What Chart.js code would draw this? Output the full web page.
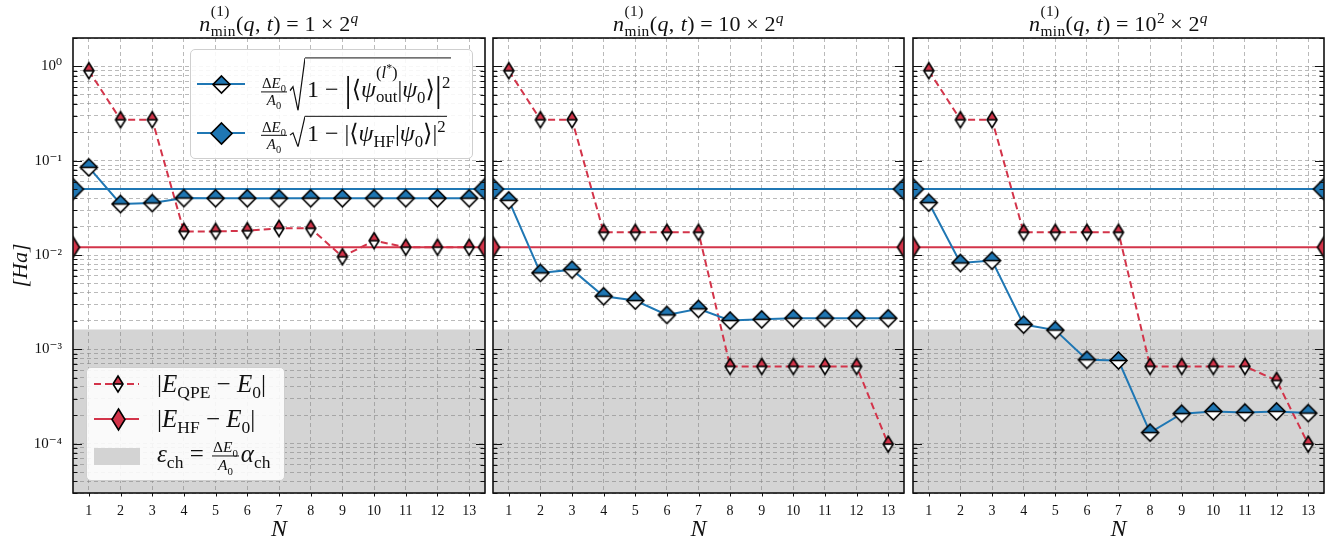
<!DOCTYPE html>
<html>
<head>
<meta charset="utf-8">
<script src="https://cdn.jsdelivr.net/npm/chart.js@4.4.1/dist/chart.umd.min.js"></script>
<style>
  body { margin: 0; background: #fff; width: 1340px; height: 542px; overflow: hidden; position: relative; }
  .panel { position: absolute; top: 0; height: 542px; }
  .m { font-family: "Liberation Serif", "DejaVu Serif", serif; color: #111; white-space: nowrap; }
  .m sub, .m sup { font-size: 0.7em; line-height: 0; }
  .op { margin: 0 0.24em; }
  .title { position: absolute; top: 11px; text-align: center; font-size: 22px; line-height: 26px; letter-spacing: 0.4px; }
  .ss { position: relative; display: inline-block; font-size: 0.7em; vertical-align: -0.32em; line-height: 1; }
  .ss .sp { position: absolute; left: 0; top: -1.3em; }
  .leg .ss .sp { top: -1.45em; }
  .frac { display: inline-block; vertical-align: middle; text-align: center; font-size: 0.62em; line-height: 1.1; margin: 0 2px; }
  .frac > span { display: block; padding: 0 1px; }
  .frac .num { border-bottom: 1px solid #111; }
  .sqrt { display: inline-flex; position: relative; padding-left: 16px; vertical-align: baseline; }
  .sqrt svg { position: absolute; left: 0; top: 0; width: 16px; height: 100%; }
  .rc { display: inline-block; border-top: 1.2px solid #111; padding: 2px 1px 0 2px; }
  .rc.tall { padding-top: 17px; padding-bottom: 4px; }
  .big { font-size: 1.5em; line-height: 0; vertical-align: -0.1em; }
  .legend { position: absolute; background: rgba(255,255,255,0.88); border: 1px solid #cfcfcf; border-radius: 5px; }
  .legend .key { position: absolute; }
  .legend .txt { position: absolute; transform: translateY(-50%); }
</style>
</head>
<body>
<div id="p0" class="panel" style="left:0px;width:490px"><canvas id="c0" width="490" height="542"></canvas></div>
<div id="p1" class="panel" style="left:488px;width:422px"><canvas id="c1" width="422" height="542"></canvas></div>
<div id="p2" class="panel" style="left:908px;width:422px"><canvas id="c2" width="422" height="542"></canvas></div>

<div class="title m" style="left:73px;width:412px"><i>n</i><span class="ss"><span class="sp">(1)</span>min</span>(<i>q</i>, <i>t</i>)<span class="op">=</span>1<span class="op">×</span>2<sup><i>q</i></sup></div>
<div class="title m" style="left:493px;width:411px"><i>n</i><span class="ss"><span class="sp">(1)</span>min</span>(<i>q</i>, <i>t</i>)<span class="op">=</span>10<span class="op">×</span>2<sup><i>q</i></sup></div>
<div class="title m" style="left:913px;width:411px"><i>n</i><span class="ss"><span class="sp">(1)</span>min</span>(<i>q</i>, <i>t</i>)<span class="op">=</span>10<sup>2</sup><span class="op">×</span>2<sup><i>q</i></sup></div>

<div id="leg1" class="legend m leg" style="left:190px;top:49px;width:281px;height:108px">
  <div class="txt" style="left:68px;top:34px;font-size:24px"><span class="frac"><span class="num">Δ<i>E</i><sub>0</sub></span><span><i>A</i><sub>0</sub></span></span><span class="sqrt"><svg viewBox="0 0 16 40" preserveAspectRatio="none"><polyline points="1,25 4,22 9,40 16,0.6" fill="none" stroke="#111" stroke-width="1.2"/></svg><span class="rc tall">1 − <span class="big">|</span>⟨<i>ψ</i><span class="ss"><span class="sp">(<i>l</i><sup>*</sup>)</span>out</span>|<i>ψ</i><sub>0</sub>⟩<span class="big">|</span><sup>2</sup></span></span></div>
  <div class="txt" style="left:68px;top:84px;font-size:24px"><span class="frac"><span class="num">Δ<i>E</i><sub>0</sub></span><span><i>A</i><sub>0</sub></span></span><span class="sqrt"><svg viewBox="0 0 16 40" preserveAspectRatio="none"><polyline points="1,25 4,22 9,40 16,0.6" fill="none" stroke="#111" stroke-width="1.2"/></svg><span class="rc">1 − |⟨<i>ψ</i><sub>HF</sub>|<i>ψ</i><sub>0</sub>⟩|<sup>2</sup></span></span></div>
</div>

<div id="leg2" class="legend m leg" style="left:86px;top:367px;width:197px;height:112px">
  <div class="txt" style="left:70px;top:16px;font-size:25px">|<i>E</i><sub>QPE</sub> − <i>E</i><sub>0</sub>|</div>
  <div class="txt" style="left:70px;top:51px;font-size:25px">|<i>E</i><sub>HF</sub> − <i>E</i><sub>0</sub>|</div>
  <div class="txt" style="left:70px;top:88px;font-size:25px"><i>ε</i><sub>ch</sub> = <span class="frac"><span class="num">Δ<i>E</i><sub>0</sub></span><span><i>A</i><sub>0</sub></span></span><i>α</i><sub>ch</sub></div>
</div>

<script>
// ── data ─────────────────────────────────────────────────────
const N = [1, 2, 3, 4, 5, 6, 7, 8, 9, 10, 11, 12, 13];

// |E_QPE - E0| (red dashed, thin half diamonds)
const qpeErr1 = [0.90, 0.272, 0.272, 0.0178, 0.0178, 0.0181, 0.0192, 0.0192, 0.0096, 0.0142, 0.0121, 0.0121, 0.0121];
const qpeErr2 = [0.90, 0.272, 0.272, 0.0174, 0.0174, 0.0174, 0.0174, 6.6e-4, 6.6e-4, 6.6e-4, 6.6e-4, 6.6e-4, 9.9e-5];
const qpeErr3 = [0.90, 0.272, 0.272, 0.0174, 0.0174, 0.0174, 0.0174, 6.6e-4, 6.6e-4, 6.6e-4, 6.6e-4, 4.68e-4, 9.9e-5];

// dE0/A0 * sqrt(1 - |<psi_out|psi0>|^2) (blue solid, half diamonds)
const outBound1 = [0.085, 0.0348, 0.0356, 0.0402, 0.0400, 0.0400, 0.0400, 0.0400, 0.0400, 0.0400, 0.0400, 0.0400, 0.0400];
const outBound2 = [0.038, 0.00646, 0.0070, 0.00366, 0.00329, 0.00232, 0.00269, 0.00202, 0.00208, 0.00214, 0.00214, 0.00214, 0.00214];
const outBound3 = [0.0359, 0.00824, 0.00873, 0.00183, 0.00160, 7.75e-4, 7.62e-4, 1.31e-4, 2.08e-4, 2.20e-4, 2.14e-4, 2.20e-4, 2.11e-4];

// horizontal references (same in every panel)
const hfErr   = 0.0121;   // |E_HF - E0|
const hfBound = 0.050;    // dE0/A0 * sqrt(1 - |<psi_HF|psi0>|^2)
const epsCh   = 1.62e-3;  // chemical accuracy band

const xLimits = [0.5, 13.5];
const yLimits = [3e-5, 2];
const decadeExps = [-4, -3, -2, -1, 0];

// ── styles ────────────────────────────────────────────────────
const BLUE = "#1f77b4";
const RED  = "#d3344a";
const GRID = "rgba(140,140,140,0.6)";
const FONT = "'Liberation Serif', 'DejaVu Serif', serif";

const SUP = { "-": "⁻", "0": "⁰", "1": "¹", "2": "²", "3": "³", "4": "⁴", "5": "⁵" };

function diamond(w, h, fill, half) {
  const c = document.createElement("canvas");
  c.width = Math.ceil(w) + 4;
  c.height = Math.ceil(h) + 4;
  const g = c.getContext("2d");
  const cx = c.width / 2, cy = c.height / 2;
  const path = () => {
    g.beginPath();
    g.moveTo(cx, cy - h / 2); g.lineTo(cx + w / 2, cy);
    g.lineTo(cx, cy + h / 2); g.lineTo(cx - w / 2, cy);
    g.closePath();
  };
  path(); g.fillStyle = half ? "#fff" : fill; g.fill();
  if (half) {
    g.save(); path(); g.clip();
    g.fillStyle = fill; g.fillRect(0, 0, c.width, cy);
    g.restore();
  }
  g.lineWidth = 1.6; g.strokeStyle = "#000";
  g.lineJoin = "miter";
  path(); g.stroke();
  if (half) { g.beginPath(); g.moveTo(cx - w / 2, cy); g.lineTo(cx + w / 2, cy); g.stroke(); }
  return c;
}

const mOut  = diamond(17, 17, BLUE, true);
const mQpe  = diamond(10, 16, RED, true);
const mHfB  = diamond(21, 21, BLUE, false);
const mHfE  = diamond(13, 21, RED, false);

const pts  = arr => arr.map((v, i) => ({ x: N[i], y: v }));
const edge = v => [{ x: xLimits[0], y: v }, { x: xLimits[1], y: v }];

function isDecade(v) {
  const l = Math.log10(v);
  return Math.abs(l - Math.round(l)) < 1e-9;
}

function yGridValues() {
  const out = [];
  for (let e = -5; e <= 0; e++)
    for (let m = 1; m <= 9; m++) {
      const v = +(m * Math.pow(10, e)).toPrecision(6);
      if (v >= yLimits[0] && v <= yLimits[1]) out.push(v);
    }
  return out;
}

// frame + inward y ticks on both sides, small x ticks below
const frameTicks = {
  id: "frameTicks",
  afterDraw(chart) {
    const { ctx, chartArea: { left, right, top, bottom }, scales: { x, y } } = chart;
    ctx.save();
    ctx.strokeStyle = "#111";
    ctx.lineWidth = 1;
    ctx.beginPath();
    y.ticks.forEach(t => {
      const py = Math.round(y.getPixelForValue(t.value)) + 0.5;
      const len = isDecade(t.value) ? 9 : 4.5;
      ctx.moveTo(left, py); ctx.lineTo(left + len, py);
      ctx.moveTo(right - len, py); ctx.lineTo(right, py);
    });
    x.ticks.forEach(t => {
      const px = Math.round(x.getPixelForValue(t.value)) + 0.5;
      ctx.moveTo(px, bottom); ctx.lineTo(px, bottom + 3.5);
    });
    ctx.stroke();
    ctx.lineWidth = 1.6;
    ctx.strokeRect(left, top, right - left, bottom - top);
    ctx.restore();
  }
};

function buildPanel(idx, qpe, out, geo) {
  const first = idx === 0;
  return new Chart(document.getElementById("c" + idx), {
    type: "line",
    data: {
      datasets: [
        { data: pts(out), borderColor: BLUE, borderWidth: 2, pointStyle: mOut, pointRadius: 8, order: 0 },
        { data: pts(qpe), borderColor: RED, borderWidth: 2, borderDash: [7, 4], pointStyle: mQpe, pointRadius: 8, order: 1 },
        { data: edge(hfBound), borderColor: BLUE, borderWidth: 2, pointStyle: mHfB, pointRadius: 10, clip: 0, order: 2 },
        { data: edge(hfErr), borderColor: RED, borderWidth: 2, pointStyle: mHfE, pointRadius: 10, clip: 0, order: 3 },
        { data: edge(epsCh), borderWidth: 0, pointRadius: 0, fill: "start", backgroundColor: "rgba(120,120,120,0.32)", clip: 0, order: 4 }
      ]
    },
    options: {
      responsive: false,
      animation: false,
      events: [],
      layout: { autoPadding: false, padding: { left: geo.padL, right: geo.padR, top: 38, bottom: 0 } },
      plugins: { legend: { display: false }, tooltip: { enabled: false } },
      scales: {
        x: {
          type: "linear", min: xLimits[0], max: xLimits[1],
          afterBuildTicks: s => { s.ticks = N.map(v => ({ value: v })); },
          afterFit: s => { s.height = 49; s.paddingLeft = 0; s.paddingRight = 0; },
          grid: { color: GRID, lineWidth: 1, drawTicks: false },
          border: { display: false, dash: [4, 3] },
          ticks: { padding: 10, color: "#111", font: { family: FONT, size: 14 } },
          title: { display: true, text: "N", color: "#111", padding: { top: 0, bottom: -2 }, font: { family: FONT, size: 24, style: "italic" } }
        },
        y: {
          type: "logarithmic", min: yLimits[0], max: yLimits[1],
          afterBuildTicks: s => { s.ticks = yGridValues().map(v => ({ value: v })); },
          afterFit: s => { s.width = geo.yW; s.paddingTop = 0; s.paddingBottom = 0; },
          grid: { color: GRID, lineWidth: 1, drawTicks: false },
          border: { display: false, dash: [4, 3] },
          ticks: {
            display: first, autoSkip: false, padding: 11, color: "#111",
            font: { family: FONT, size: 15 },
            callback: v => {
              if (!isDecade(v)) return "";
              const e = Math.round(Math.log10(v));
              if (!decadeExps.includes(e)) return "";
              return "10" + String(e).split("").map(ch => SUP[ch]).join("");
            }
          },
          title: { display: first, text: "[Ha]", color: "#111", padding: { top: 8 }, font: { family: FONT, size: 22, style: "italic" } }
        }
      }
    },
    plugins: [frameTicks]
  });
}

buildPanel(0, qpeErr1, outBound1, { padL: 0, padR: 5, yW: 73 });
buildPanel(1, qpeErr2, outBound2, { padL: 5, padR: 6, yW: 0 });
buildPanel(2, qpeErr3, outBound3, { padL: 5, padR: 6, yW: 0 });

// ── legend keys (line + marker) ──────────────────────────────
function addKey(legId, cy, color, dashed, marker, x0, x1, mx) {
  const leg = document.getElementById(legId);
  const svgNS = "http://www.w3.org/2000/svg";
  const svg = document.createElementNS(svgNS, "svg");
  svg.setAttribute("class", "key");
  svg.setAttribute("width", x1 - x0);
  svg.setAttribute("height", 4);
  svg.style.left = x0 + "px";
  svg.style.top = (cy - 2) + "px";
  const ln = document.createElementNS(svgNS, "line");
  ln.setAttribute("x1", 0); ln.setAttribute("x2", x1 - x0);
  ln.setAttribute("y1", 2); ln.setAttribute("y2", 2);
  ln.setAttribute("stroke", color); ln.setAttribute("stroke-width", 2);
  if (dashed) ln.setAttribute("stroke-dasharray", "7 4");
  svg.appendChild(ln);
  leg.appendChild(svg);
  const img = document.createElement("img");
  img.src = marker.toDataURL();
  img.className = "key";
  img.style.left = (mx - marker.width / 2) + "px";
  img.style.top = (cy - marker.height / 2) + "px";
  leg.appendChild(img);
}

addKey("leg1", 34, BLUE, false, mOut, 6, 54, 30);
addKey("leg1", 83, BLUE, false, mHfB, 6, 54, 30);
addKey("leg2", 16, RED, true, mQpe, 7, 52, 31);
addKey("leg2", 51, RED, false, mHfE, 7, 52, 31);

const patch = document.createElement("div");
patch.className = "key";
Object.assign(patch.style, { left: "7px", top: "80px", width: "46px", height: "17px", background: "#d3d3d3" });
document.getElementById("leg2").appendChild(patch);
</script>
</body>
</html>
